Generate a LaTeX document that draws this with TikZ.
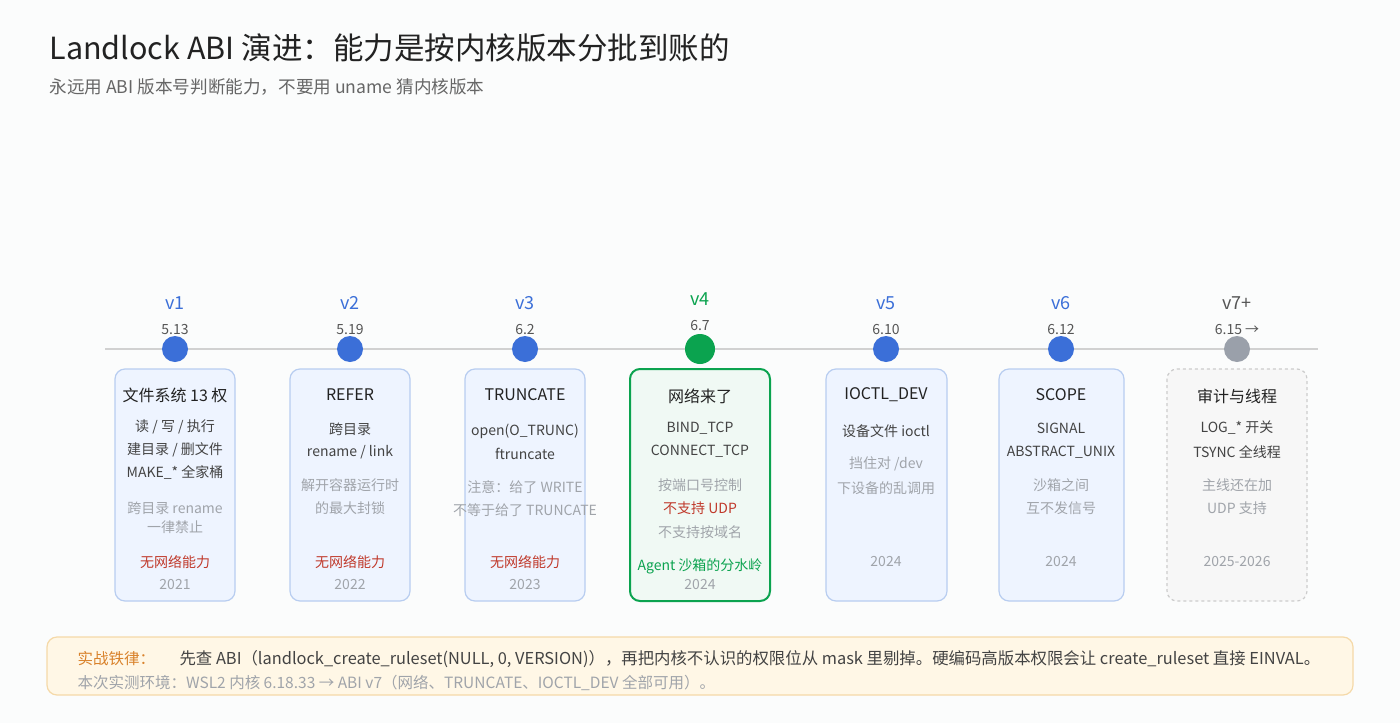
\documentclass[tikz,border=0pt]{standalone}
\usepackage{fontspec}
\setmainfont{Noto Sans CJK SC}
\usetikzlibrary{positioning}
\definecolor{vblue}{HTML}{3B6FD8}
\definecolor{vgreen}{HTML}{0BA34F}
\definecolor{vgray}{HTML}{9AA0AA}
\definecolor{boxfill}{HTML}{EEF4FF}
\definecolor{boxline}{HTML}{B8CDF0}
\definecolor{txtred}{HTML}{C0392B}
\definecolor{txtdark}{HTML}{222222}
\definecolor{txtmid}{HTML}{555555}
\definecolor{txtlight}{HTML}{A0A4AA}
\definecolor{tipfill}{HTML}{FFF7E6}
\definecolor{tipline}{HTML}{F5D9A8}
\definecolor{tiporange}{HTML}{D9822B}
\definecolor{pagebg}{HTML}{FBFCFC}

\tikzset{
 VerStyle/.style = {font=\fontsize{18}{20}\selectfont, anchor=center},
 KerStyle/.style = {font=\fontsize{14}{16}\selectfont, text=txtmid},
 DotStyle/.style = {circle, minimum size=26pt, inner sep=0pt},
 BoxStyle/.style = {rounded corners=10pt, draw=boxline, fill=boxfill, line width=1.2pt},
 HeadStyle/.style = {font=\fontsize{16}{18}\selectfont, text=txtdark},
 MainStyle/.style = {font=\fontsize{14}{16}\selectfont, text=txtdark!85},
 NoteStyle/.style = {font=\fontsize{14}{16}\selectfont, text=txtlight},
 RedStyle/.style = {font=\fontsize{14}{16}\selectfont, text=txtred},
 YearStyle/.style = {font=\fontsize{14}{16}\selectfont, text=txtlight}
}

\begin{document}
\begin{tikzpicture}[x=1pt, y=-1pt]
\useasboundingbox[fill=pagebg] (0,0) rectangle (1400,723);

% title
\node[anchor=west, font=\fontsize{30.5}{34}\selectfont, text=txtdark] (title) at (46,48) {Landlock ABI 演进：能力是按内核版本分批到账的};
\node[anchor=west, font=\fontsize{17.6}{19}\selectfont, text=txtmid!90] (subtitle) at (46,87) {永远用 ABI 版本号判断能力，不要用 uname 猜内核版本};

% timeline
\coordinate (L1) at (105,349);
\coordinate (L2) at (1318,349);
\draw[line width=2pt, draw=black!18] (L1) -- (L2);

% boxes
\draw[BoxStyle] (115,369) rectangle (235,601);
\draw[BoxStyle] (290,369) rectangle (410,601);
\draw[BoxStyle] (465,369) rectangle (585,601);
\draw[BoxStyle, draw=vgreen, fill=vgreen!6, line width=2pt] (630,369) rectangle (770,601);
\draw[BoxStyle] (826,369) rectangle (947,601);
\draw[BoxStyle] (999,369) rectangle (1124,601);
\draw[BoxStyle, draw=black!20, fill=black!3, dashed] (1167,369) rectangle (1307,601);

% v1
\node[VerStyle, text=vblue] (V1) at (175,303) {v1};
\node[KerStyle] (K1) at (175,330) {5.13};
\node[DotStyle, fill=vblue] (D1) at (175,349) {};
\node[HeadStyle] (H1) at (175,395) {文件系统 13 权};
\node[MainStyle] (M1a) at (175,427) {读 / 写 / 执行};
\node[MainStyle] (M1b) at (175,450) {建目录 / 删文件};
\node[MainStyle] (M1c) at (175,473) {MAKE\_* 全家桶};
\node[NoteStyle] (N1a) at (175,508) {跨目录 rename};
\node[NoteStyle] (N1b) at (175,527) {一律禁止};
\node[RedStyle] (R1) at (175,562) {无网络能力};
\node[YearStyle] (Y1) at (175,585) {2021};

% v2
\node[VerStyle, text=vblue] (V2) at (350,303) {v2};
\node[KerStyle] (K2) at (350,330) {5.19};
\node[DotStyle, fill=vblue] (D2) at (350,349) {};
\node[HeadStyle] (H2) at (350,395) {REFER};
\node[MainStyle] (M2a) at (350,429) {跨目录};
\node[MainStyle] (M2b) at (350,452) {rename / link};
\node[NoteStyle] (N2a) at (350,485) {解开容器运行时};
\node[NoteStyle] (N2b) at (350,508) {的最大封锁};
\node[RedStyle] (R2) at (350,562) {无网络能力};
\node[YearStyle] (Y2) at (350,585) {2022};

% v3
\node[VerStyle, text=vblue] (V3) at (525,303) {v3};
\node[KerStyle] (K3) at (525,330) {6.2};
\node[DotStyle, fill=vblue] (D3) at (525,349) {};
\node[HeadStyle] (H3) at (525,395) {TRUNCATE};
\node[MainStyle] (M3a) at (525,431) {open(O\_TRUNC)};
\node[MainStyle] (M3b) at (525,454) {ftruncate};
\node[NoteStyle] (N3a) at (525,487) {注意：给了 WRITE};
\node[NoteStyle] (N3b) at (525,510) {不等于给了 TRUNCATE};
\node[RedStyle] (R3) at (525,562) {无网络能力};
\node[YearStyle] (Y3) at (525,585) {2023};

% v4
\node[VerStyle, text=vgreen] (V4) at (700,299) {v4};
\node[KerStyle] (K4) at (700,326) {6.7};
\node[DotStyle, fill=vgreen, minimum size=30pt] (D4) at (700,349) {};
\node[HeadStyle] (H4) at (700,396) {网络来了};
\node[MainStyle] (M4a) at (700,428) {BIND\_TCP};
\node[MainStyle] (M4b) at (700,451) {CONNECT\_TCP};
\node[NoteStyle] (N4a) at (700,485) {按端口号控制};
\node[RedStyle] (R4) at (700,508) {不支持 UDP};
\node[NoteStyle] (N4b) at (700,532) {不支持按域名};
\node[RedStyle, text=vgreen] (G4) at (700,566) {Agent 沙箱的分水岭};
\node[YearStyle] (Y4) at (700,585) {2024};

% v5
\node[VerStyle, text=vblue] (V5) at (886,303) {v5};
\node[KerStyle] (K5) at (886,330) {6.10};
\node[DotStyle, fill=vblue] (D5) at (886,349) {};
\node[HeadStyle] (H5) at (886,395) {IOCTL\_DEV};
\node[MainStyle] (M5a) at (886,431) {设备文件 ioctl};
\node[NoteStyle] (N5a) at (886,464) {挡住对 /dev};
\node[NoteStyle] (N5b) at (886,488) {下设备的乱调用};
\node[YearStyle] (Y5) at (886,562) {2024};

% v6
\node[VerStyle, text=vblue] (V6) at (1061,303) {v6};
\node[KerStyle] (K6) at (1061,330) {6.12};
\node[DotStyle, fill=vblue] (D6) at (1061,349) {};
\node[HeadStyle] (H6) at (1061,395) {SCOPE};
\node[MainStyle] (M6a) at (1061,428) {SIGNAL};
\node[MainStyle] (M6b) at (1061,452) {ABSTRACT\_UNIX};
\node[NoteStyle] (N6a) at (1061,485) {沙箱之间};
\node[NoteStyle] (N6b) at (1061,508) {互不发信号};
\node[YearStyle] (Y6) at (1061,562) {2024};

% v7+
\node[VerStyle, text=txtmid] (V7) at (1237,303) {v7+};
\node[KerStyle] (K7) at (1237,330) {6.15 →};
\node[DotStyle, fill=vgray] (D7) at (1237,349) {};
\node[HeadStyle] (H7) at (1237,396) {审计与线程};
\node[MainStyle] (M7a) at (1237,428) {LOG\_* 开关};
\node[MainStyle] (M7b) at (1237,452) {TSYNC 全线程};
\node[NoteStyle] (N7a) at (1237,485) {主线还在加};
\node[NoteStyle] (N7b) at (1237,508) {UDP 支持};
\node[YearStyle] (Y7) at (1237,562) {2025-2026};

% rule box
\draw[rounded corners=10pt, draw=tipline, fill=tipfill, line width=1.2pt] (47,637) rectangle (1353,695);
\node[anchor=west, font=\fontsize{15.5}{17}\selectfont, text=tiporange] (tiphead) at (74,659) {实战铁律：};
\node[anchor=west, font=\fontsize{16.4}{18}\selectfont, text=txtdark!85] (tipbody) at (176,659) {先查 ABI（landlock\_create\_ruleset(NULL, 0, VERSION)），再把内核不认识的权限位从 mask 里剔掉。硬编码高版本权限会让 create\_ruleset 直接 EINVAL。};
\node[anchor=west, font=\fontsize{15.5}{17}\selectfont, text=txtlight] (tipnote) at (74,683) {本次实测环境：WSL2 内核 6.18.33 → ABI v7（网络、TRUNCATE、IOCTL\_DEV 全部可用）。};
\end{tikzpicture}
\end{document}
